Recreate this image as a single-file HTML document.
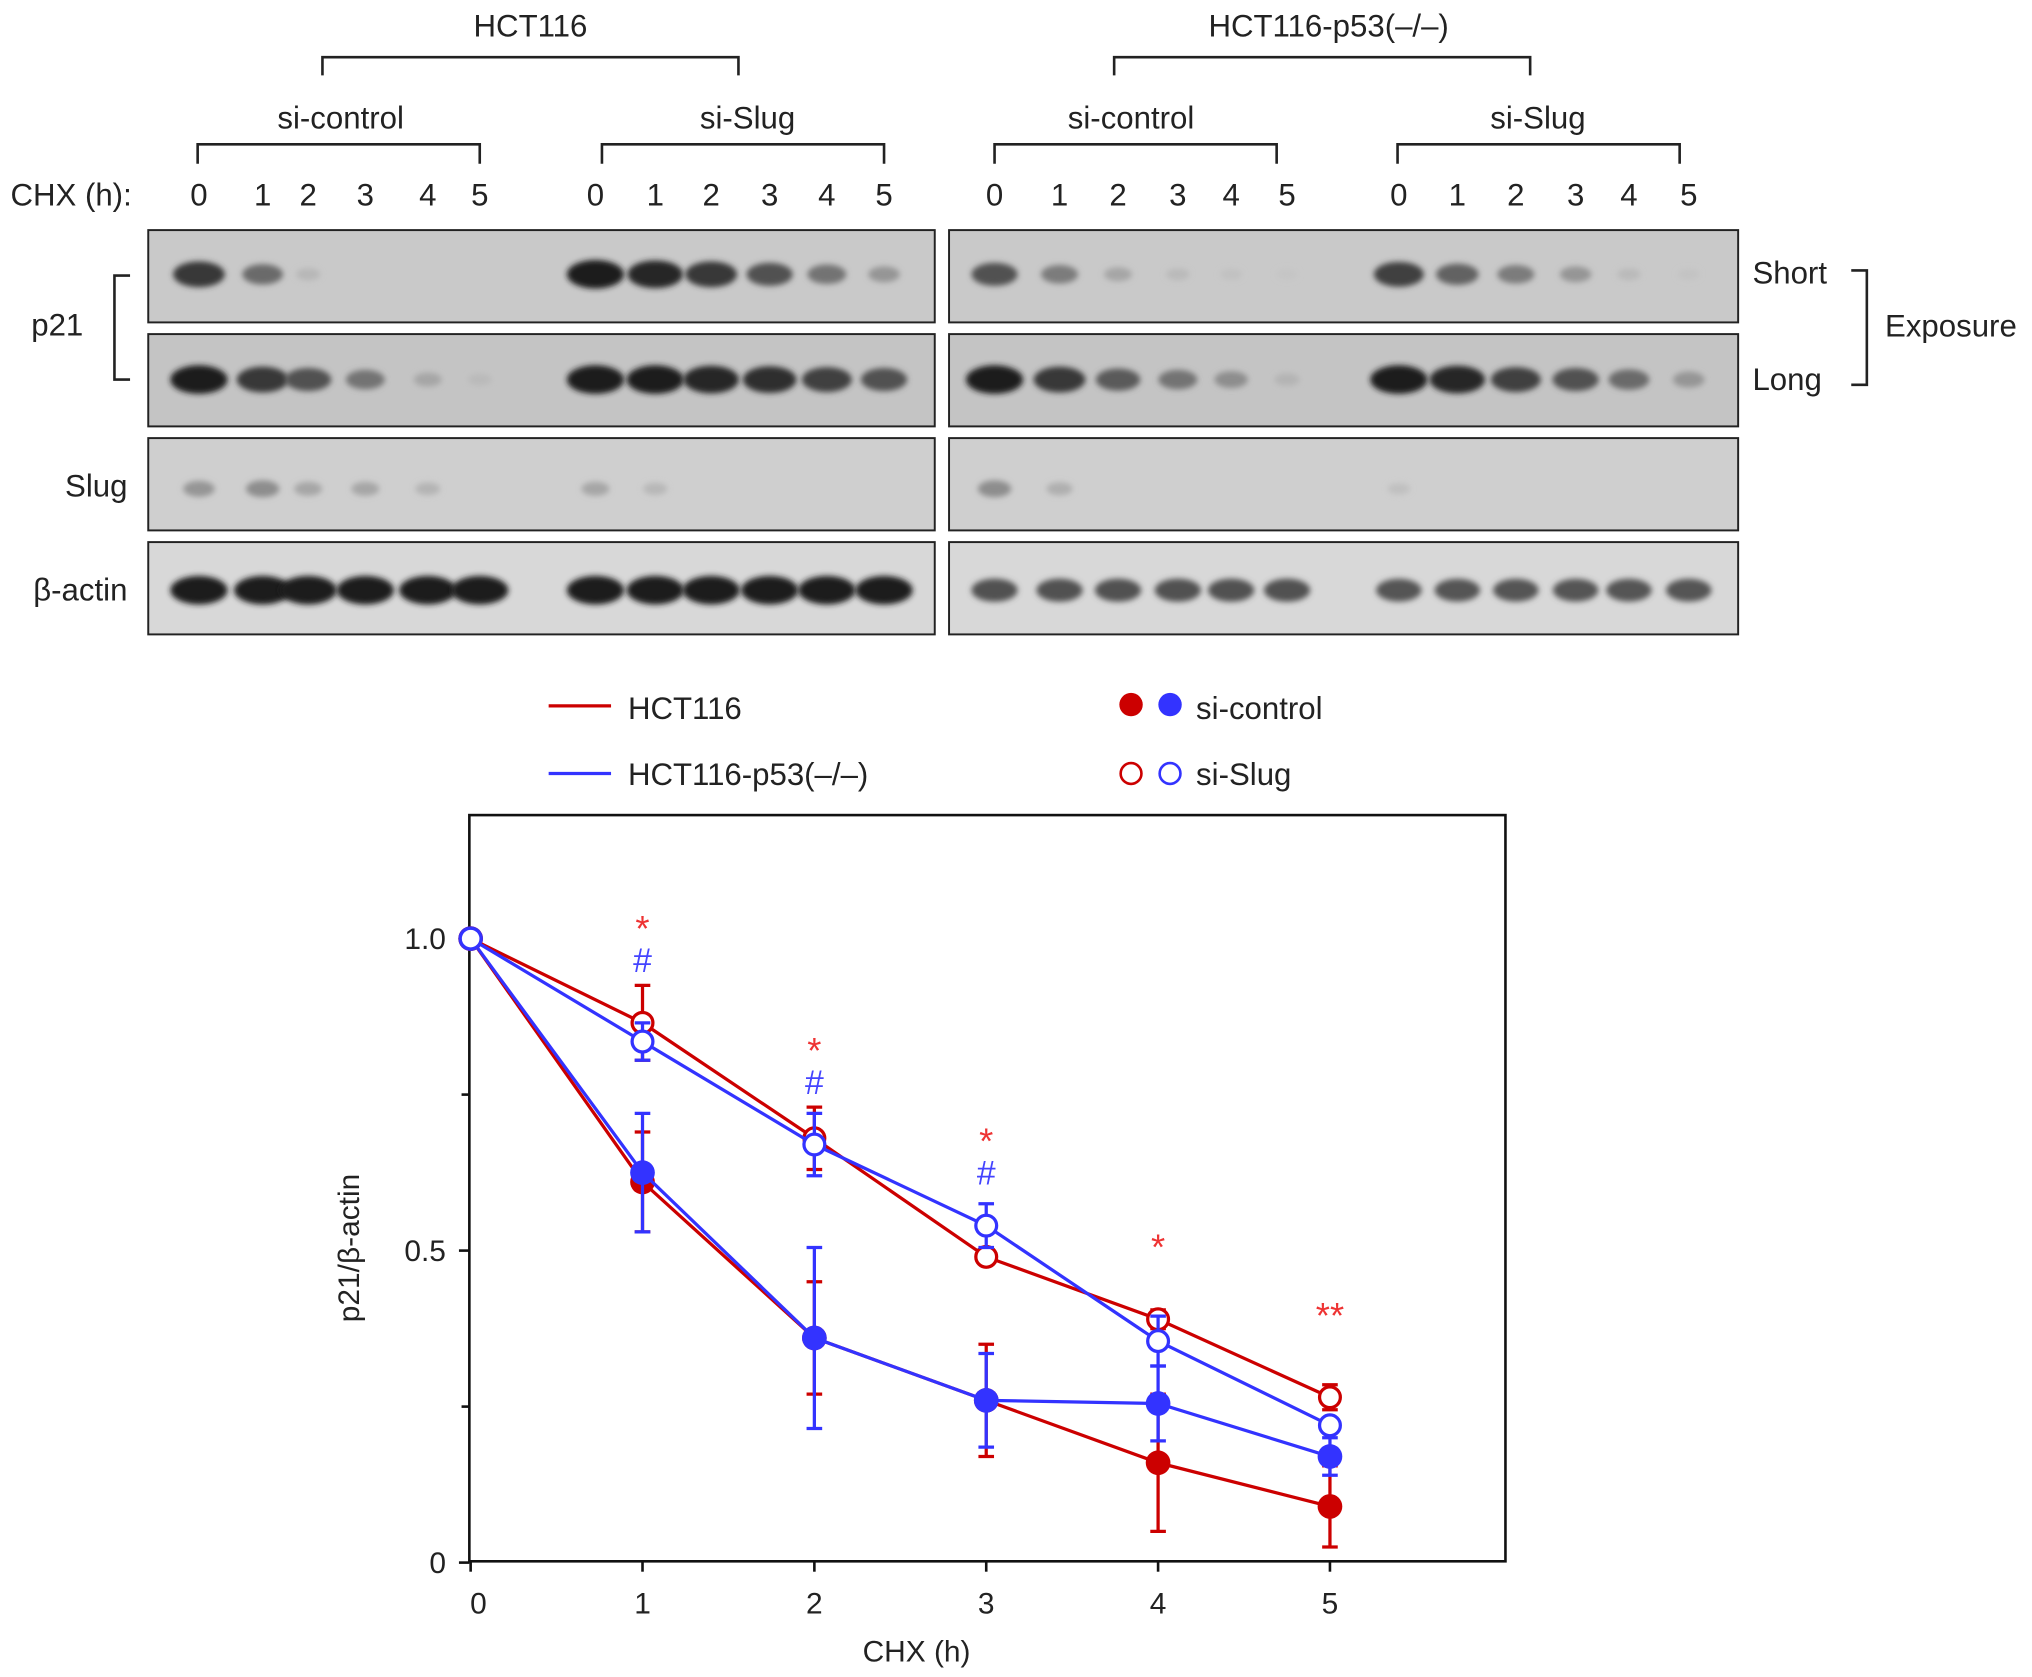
<!DOCTYPE html>
<html><head><meta charset="utf-8"><style>
html,body{margin:0;padding:0;background:#fff}
svg{display:block}
text{font-family:"Liberation Sans",Arial,sans-serif;fill:#222}
</style></head><body>
<svg width="2032" height="1677" viewBox="0 0 1563 1290">
<defs><filter id="bl" x="-50%" y="-100%" width="200%" height="300%"><feGaussianBlur stdDeviation="2.2"/></filter></defs>
<g id="blots">
<text x="408" y="28" font-size="24" text-anchor="middle">HCT116</text>
<text x="1022" y="28" font-size="24" text-anchor="middle">HCT116-p53(–/–)</text>
<path d="M248 58V44H568V58M857 58V44H1177V58" stroke="#222" stroke-width="2" fill="none"/>
<text x="262" y="99" font-size="24" text-anchor="middle">si-control</text>
<text x="575" y="99" font-size="24" text-anchor="middle">si-Slug</text>
<text x="870" y="99" font-size="24" text-anchor="middle">si-control</text>
<text x="1183" y="99" font-size="24" text-anchor="middle">si-Slug</text>
<path d="M152 126V111H369V126M463 126V111H680V126M765 126V111H982V126M1075 126V111H1292V126" stroke="#222" stroke-width="2" fill="none"/>
<text x="8" y="158" font-size="24">CHX (h):</text>
<text x="24" y="258" font-size="24">p21</text>
<path d="M100 212H88V292H100" stroke="#222" stroke-width="2" fill="none"/>
<text x="98" y="382" font-size="24" text-anchor="end">Slug</text>
<text x="98" y="462" font-size="24" text-anchor="end">β-actin</text>
<text x="1348" y="218" font-size="24">Short</text>
<text x="1348" y="300" font-size="24">Long</text>
<path d="M1424 208H1436V296H1424" stroke="#222" stroke-width="2" fill="none"/>
<text x="1450" y="259" font-size="24">Exposure</text>
</g>
<g id="chart">
<rect x="361" y="627" width="797" height="574" fill="none" stroke="#111" stroke-width="2"/>
<text x="705" y="1278" font-size="23" text-anchor="middle">CHX (h)</text>
<text transform="translate(276 960) rotate(-90)" font-size="23" text-anchor="middle">p21/β-actin</text>
<line x1="422" y1="543" x2="470" y2="543" stroke="#c00" stroke-width="2.5"/>
<text x="483" y="553" font-size="24">HCT116</text>
<line x1="422" y1="595" x2="470" y2="595" stroke="#33f" stroke-width="2.5"/>
<text x="483" y="604" font-size="24">HCT116-p53(–/–)</text>
<circle cx="870" cy="542" r="9" fill="#c00"/>
<circle cx="900" cy="542" r="9" fill="#33f"/>
<text x="920" y="553" font-size="24">si-control</text>
<circle cx="870" cy="595" r="8" fill="#fff" stroke="#c00" stroke-width="2"/>
<circle cx="900" cy="595" r="8" fill="#fff" stroke="#33f" stroke-width="2"/>
<text x="920" y="604" font-size="24">si-Slug</text>
</g>
</svg>
<script>
const NS='http://www.w3.org/2000/svg';
const svg=document.querySelector('svg');
function mk(tag,at,parent){const e=document.createElementNS(NS,tag);for(const k in at)e.setAttribute(k,at[k]);(parent||svg).appendChild(e);return e;}
const laneTimes=[0,1,2,3,4,5];
const lanesX=[[153,202,237,281,329,369],[458,504,547,592,636,680],[765,815,860,906,947,990],[1076,1121,1166,1212,1253,1299]];
const shortInt=[[0.85,0.55,0.1,0,0,0],[1,0.95,0.85,0.7,0.5,0.3],[0.7,0.45,0.2,0.08,0.04,0.02],[0.8,0.6,0.45,0.3,0.08,0.03]];
const longInt=[[1,0.85,0.7,0.5,0.2,0.08],[1,1,0.95,0.9,0.8,0.7],[1,0.85,0.65,0.5,0.35,0.12],[1,0.95,0.8,0.7,0.55,0.3]];
const slugInt=[[0.3,0.35,0.2,0.2,0.12,0],[0.2,0.1,0,0,0,0],[0.35,0.15,0,0,0,0],[0.05,0,0,0,0,0]];
const actinInt=[[1,1,1,1,1,1],[1,1,1,1,1,1],[0.7,0.7,0.7,0.7,0.7,0.7],[0.68,0.68,0.68,0.68,0.68,0.68]];
const blotG=document.getElementById('blots');
const rows=[177,257,337,417];
const bgs=['#c9c9c9','#c4c4c4','#cfcfcf','#d8d8d8'];
[[114,719],[730,1337]].forEach((p,pi)=>{
 rows.forEach((y,ri)=>{
  const r=mk('rect',{x:p[0],y:y,width:p[1]-p[0],height:71,fill:bgs[ri],stroke:'#222','stroke-width':1.5},blotG);
  
  
 });
});
lanesX.forEach((xs,g)=>{
 xs.forEach((x,i)=>{
  const t=mk('text',{x:x,y:158,'font-size':24,'text-anchor':'middle'},blotG);t.textContent=laneTimes[i];
  
  
  [[shortInt,211],[longInt,292],[slugInt,376],[actinInt,454]].forEach(([arr,cy])=>{
   const v=arr[g][i];if(v<=0)return;
   const w=8+14*v,h=4+7*v;const s=Math.round(200-170*v);
   const e=mk('ellipse',{cx:x,cy:cy,rx:w,ry:h,fill:`rgb(${s},${s},${s})`,filter:'url(#bl)'},blotG);
   
   
  });
 });
});
const xCats=[0,1,2,3,4,5];
const hctCtrl=[1,0.61,0.36,0.26,0.16,0.09];
const hctCtrlErr=[0,0.08,0.09,0.09,0.11,0.065];
const hctSlug=[1,0.865,0.68,0.49,0.39,0.265];
const hctSlugErr=[0,0.06,0.05,0.01,0.015,0.02];
const p53Ctrl=[1,0.625,0.36,0.26,0.255,0.17];
const p53CtrlErr=[0,0.095,0.145,0.075,0.06,0.03];
const p53Slug=[1,0.835,0.67,0.54,0.355,0.22];
const p53SlugErr=[0,0.03,0.05,0.035,0.04,0.01];
const yTicks=[0,0.5,1.0];
const yTickLabels=['0','0.5','1.0'];
const yMinor=[0.25,0.75];
const stars=[{x:1,y:1.025,t:'*',c:'#e33'},{x:1,y:0.965,t:'#',c:'#44f'},{x:2,y:0.83,t:'*',c:'#e33'},{x:2,y:0.77,t:'#',c:'#44f'},{x:3,y:0.685,t:'*',c:'#e33'},{x:3,y:0.625,t:'#',c:'#44f'},{x:4,y:0.515,t:'*',c:'#e33'},{x:5,y:0.405,t:'**',c:'#e33'}];
const X=v=>362+v*132.2, Y=v=>1202-v*480;
const cg=document.getElementById('chart');
yTicks.forEach((v,i)=>{
 const l=mk('line',{x1:353,x2:361,y1:Y(v),y2:Y(v),stroke:'#111','stroke-width':2},cg);
 
 
 const t=mk('text',{x:343,y:Y(v)+8,'font-size':23,'text-anchor':'end'},cg);t.textContent=yTickLabels[i];
 
 
});
yMinor.forEach(v=>{
 const l=mk('line',{x1:355,x2:361,y1:Y(v),y2:Y(v),stroke:'#111','stroke-width':2},cg);
 
 
});
xCats.forEach(v=>{
 const l=mk('line',{x1:X(v),x2:X(v),y1:1201,y2:1209,stroke:'#111','stroke-width':2},cg);
 
 
 const t=mk('text',{x:X(v)+(v===0?6:0),y:1241,'font-size':23,'text-anchor':'middle'},cg);t.textContent=v;
 
 
});
function series(vals,errs,col,open,name){
 const g=mk('g',{},cg);
 
 
 mk('polyline',{points:vals.map((v,i)=>X(xCats[i])+','+Y(v)).join(' '),fill:'none',stroke:col,'stroke-width':2.5},g);
 vals.forEach((v,i)=>{
  if(errs[i]>0){const x=X(xCats[i]);
   mk('path',{d:`M${x} ${Y(v+errs[i])}V${Y(v-errs[i])}M${x-6} ${Y(v+errs[i])}H${x+6}M${x-6} ${Y(v-errs[i])}H${x+6}`,stroke:col,'stroke-width':2.5,fill:'none'},g);}
  const c=mk('circle',{cx:X(xCats[i]),cy:Y(v),r:open?8:9.5,fill:open?'#fff':col,stroke:col,'stroke-width':open?2.5:0},g);
  
  
 });
}
series(hctCtrl,hctCtrlErr,'#c00',false,'hct116-si-control');
series(p53Ctrl,p53CtrlErr,'#33f',false,'p53-si-control');
series(hctSlug,hctSlugErr,'#c00',true,'hct116-si-slug');
series(p53Slug,p53SlugErr,'#33f',true,'p53-si-slug');
stars.forEach(s=>{
 const t=mk('text',{x:X(s.x),y:Y(s.y)+(s.t==='#'?9:14),'font-size':s.t==='#'?26:28,'text-anchor':'middle',style:'fill:'+s.c},cg);t.textContent=s.t;
 
 
});
</script>
</body></html>
